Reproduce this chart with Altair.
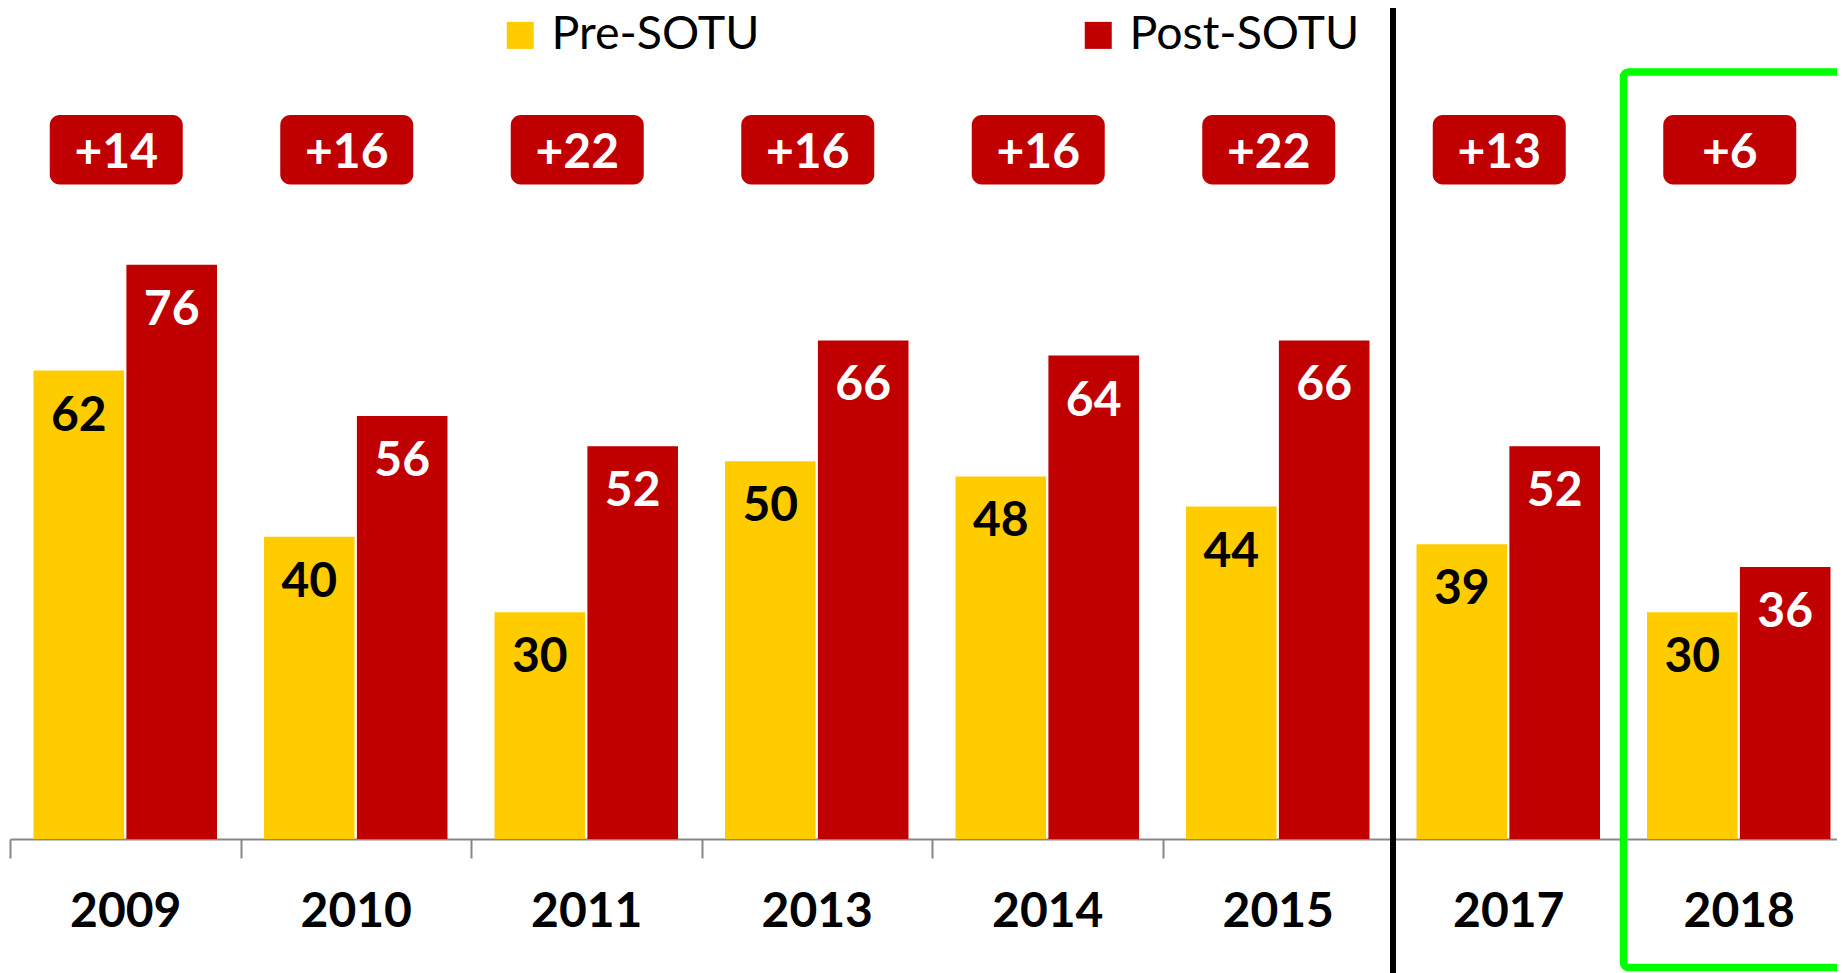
import altair as alt
import pandas as pd

# ---- data ----
years = ["2009", "2010", "2011", "2013", "2014", "2015", "2017", "2018"]
pre_sotu = [62, 40, 30, 50, 48, 44, 39, 30]
post_sotu = [76, 56, 52, 66, 64, 66, 52, 36]
series = ["Pre-SOTU", "Post-SOTU"]
colors = ["#FFCC00", "#C00000"]
divider_year = ["2017"]
highlight_year = ["2018"]

long_df = pd.DataFrame({
    "year": years * 2,
    "series": [series[0]] * len(years) + [series[1]] * len(years),
    "value": pre_sotu + post_sotu,
})
wide_df = pd.DataFrame({"year": years, "pre": pre_sotu, "post": post_sotu})

FONT = "Lato"
AXIS_GRAY = "#878787"

# the category axis runs a little past the right edge of the picture, as in the original
x_scale = alt.Scale(domain=years, range=[0, 1844], paddingInner=0, paddingOuter=0)
y_scale = alt.Scale(domain=[0, 110], nice=False, zero=True)
x_axis = alt.Axis(
    title=None, labelFont=FONT, labelFontSize=48, labelFontWeight="bold",
    labelColor="black", labelPadding=30, labelBaseline="top", labelAngle=0,
    tickBand="extent", tickSize=19, tickColor=AXIS_GRAY, tickWidth=2,
    domainColor=AXIS_GRAY, domainWidth=2, labelOverlap=False, grid=False,
)
x_enc = alt.X("year:N", scale=x_scale, axis=x_axis, sort=years)
xo_enc = alt.XOffset(
    "series:N", sort=series,
    scale=alt.Scale(domain=series, paddingInner=0.0248, paddingOuter=0.253),
)
y_enc = alt.Y("value:Q", scale=y_scale, axis=None)

bars = alt.Chart(long_df).mark_bar().encode(
    x=x_enc, xOffset=xo_enc, y=y_enc,
    color=alt.Color(
        "series:N",
        scale=alt.Scale(domain=series, range=colors),
        legend=alt.Legend(
            title=None, orient="none", legendX=487, legendY=4,
            direction="horizontal", symbolType="square", symbolSize=729,
            symbolStrokeWidth=0, symbolOpacity=1, labelFont=FONT,
            labelFontSize=46.5, labelColor="black", labelOffset=8,
            columnPadding=315, labelLimit=600, padding=0,
        ),
    ),
)

bar_labels = alt.Chart(long_df).mark_text(
    font=FONT, fontSize=48, fontWeight="bold", baseline="alphabetic", dy=60
).encode(
    x=x_enc, xOffset=xo_enc, y=y_enc, text="value:Q",
    color=alt.condition(alt.datum.series == series[0], alt.value("black"), alt.value("white")),
)

badges = alt.Chart(wide_df).mark_bar(
    width=133, cornerRadius=10, color="#C00000", xOffset=-9
).encode(x=x_enc, y=alt.value(107), y2=alt.value(176.5))

badge_text = alt.Chart(wide_df).transform_calculate(
    diff="'+' + (datum.post - datum.pre)"
).mark_text(
    font=FONT, fontSize=48, fontWeight="bold", color="white",
    baseline="alphabetic", dx=-9
).encode(x=x_enc, y=alt.value(160), text="diff:N")

divider = alt.Chart(pd.DataFrame({"year": divider_year})).mark_rule(
    color="black", strokeWidth=6
).encode(
    x=alt.X("year:N", scale=x_scale, axis=x_axis, sort=years, bandPosition=0),
    y=alt.value(0), y2=alt.value(965),
)

highlight = alt.Chart(pd.DataFrame({"year": highlight_year})).mark_bar(
    filled=False, color="#00FF00", strokeWidth=7.5, cornerRadius=5
).encode(x=x_enc, y=alt.value(64), y2=alt.value(959.5))

chart = alt.layer(
    bars, bar_labels, badges, badge_text, divider, highlight
).properties(
    width=1827, height=831,
    padding={"left": 2, "top": 0, "right": 0, "bottom": 134},
    autosize="none",
).configure_view(stroke=None)

chart.save("out.html", embed_options={"renderer": "svg", "actions": False})
